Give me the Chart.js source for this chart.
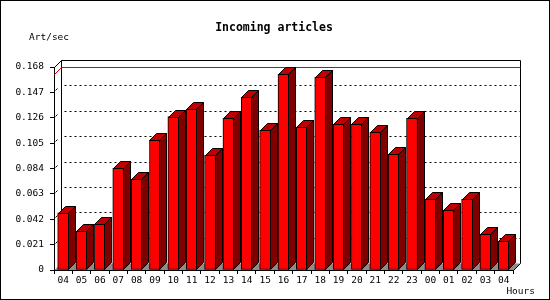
<!DOCTYPE html>
<html lang="en">
<head>
    <meta charset="UTF-8">
    <title>Incoming articles</title>
    <script src="https://cdn.jsdelivr.net/npm/chart.js"></script>
    <style>
        body { margin: 0; background: #fff; }
    </style>
</head>
<body>
    <canvas id="chart" width="550" height="300"></canvas>

    <script>
        // hours of the day (x categories)
        const hours = ['04', '05', '06', '07', '08', '09', '10', '11', '12', '13', '14', '15', '16',
                       '17', '18', '19', '20', '21', '22', '23', '00', '01', '02', '03', '04'];
        // incoming articles per second
        const artPerSec = [0.0474, 0.032, 0.0378, 0.0842, 0.0751, 0.1074, 0.1269, 0.133, 0.0949,
                           0.1256, 0.143, 0.1156, 0.162, 0.118, 0.1595, 0.1206, 0.1206, 0.114,
                           0.0958, 0.1256, 0.0585, 0.0494, 0.0585, 0.0296, 0.0238];
        const yTickValues = [0, 0.021, 0.042, 0.063, 0.084, 0.105, 0.126, 0.147, 0.168];
        const yTickLabels = ['0', '0.021', '0.042', '0.063', '0.084', '0.105', '0.126', '0.147', '0.168'];

        const DEPTH = 7;
        const MONO = '"DejaVu Sans Mono", "Liberation Mono", monospace';

        // back wall, floor, dotted grid and the max line
        const wallPlugin = {
            id: 'wall',
            beforeDraw(chart) {
                const ctx = chart.ctx;
                ctx.save();
                ctx.fillStyle = '#fff';
                ctx.fillRect(0, 0, chart.width, chart.height);
                ctx.restore();
            },
            beforeDatasetsDraw(chart) {
                const ctx = chart.ctx;
                const a = chart.chartArea;
                const y = chart.scales.y;
                const L = Math.round(a.left) + 0.5, R = Math.round(a.right) + 0.5;
                const T = Math.round(a.top) + 0.5, B = Math.round(a.bottom) + 0.5;
                ctx.save();

                // floor
                ctx.fillStyle = '#8c8c8c';
                ctx.beginPath();
                ctx.moveTo(L, B - 0.5);
                ctx.lineTo(R, B - 0.5);
                ctx.lineTo(R + DEPTH, B - DEPTH);
                ctx.lineTo(L + DEPTH, B - DEPTH);
                ctx.closePath();
                ctx.fill();

                // dotted grid on the back wall
                ctx.strokeStyle = '#000';
                ctx.lineWidth = 1;
                ctx.setLineDash([2, 3]);
                yTickValues.slice(1, -1).forEach(v => {
                    const py = Math.round(y.getPixelForValue(v)) + 0.5 - DEPTH;
                    ctx.beginPath();
                    ctx.moveTo(L + DEPTH + 3, py);
                    ctx.lineTo(R + DEPTH, py);
                    ctx.stroke();
                });
                ctx.setLineDash([]);

                // little slants from the front axis
                yTickValues.slice(1, -1).forEach(v => {
                    const py = Math.round(y.getPixelForValue(v)) + 0.5;
                    ctx.beginPath();
                    ctx.moveTo(L + 1, py - 2);
                    ctx.lineTo(L + 3, py - 4);
                    ctx.stroke();
                });

                // back wall outline
                ctx.beginPath();
                ctx.moveTo(L, T);
                ctx.lineTo(L + DEPTH, T - DEPTH);
                ctx.lineTo(R + DEPTH, T - DEPTH);
                ctx.lineTo(R + DEPTH, B - DEPTH);
                ctx.lineTo(R, B);
                ctx.moveTo(L + DEPTH, T - DEPTH);
                ctx.lineTo(L + DEPTH, B - DEPTH);
                ctx.stroke();

                // max value line
                const maxY = Math.round(y.getPixelForValue(Math.max(...artPerSec))) + 0.5;
                ctx.strokeStyle = '#e00000';
                ctx.beginPath();
                ctx.moveTo(L, maxY);
                ctx.lineTo(L + DEPTH, maxY - DEPTH);
                ctx.lineTo(R + DEPTH, maxY - DEPTH);
                ctx.stroke();
                ctx.restore();
            },
            afterDatasetsDraw(chart) {
                const ctx = chart.ctx;
                const meta = chart.getDatasetMeta(0);
                ctx.save();
                ctx.strokeStyle = '#000';
                ctx.lineWidth = 1;
                meta.data.forEach(bar => {
                    const xl = Math.round(bar.x - bar.width / 2) + 0.5;
                    const xr = Math.round(bar.x + bar.width / 2) - 0.5;
                    const yt = Math.round(bar.y) + 0.5;
                    const yb = Math.round(bar.base) - 0.5;
                    // top face
                    ctx.fillStyle = '#c00000';
                    ctx.beginPath();
                    ctx.moveTo(xl, yt);
                    ctx.lineTo(xl + DEPTH, yt - DEPTH);
                    ctx.lineTo(xr + DEPTH, yt - DEPTH);
                    ctx.lineTo(xr, yt);
                    ctx.closePath();
                    ctx.fill();
                    ctx.stroke();
                    // side face
                    ctx.fillStyle = '#800000';
                    ctx.beginPath();
                    ctx.moveTo(xr, yt);
                    ctx.lineTo(xr + DEPTH, yt - DEPTH);
                    ctx.lineTo(xr + DEPTH, yb - DEPTH);
                    ctx.lineTo(xr, yb);
                    ctx.closePath();
                    ctx.fill();
                    ctx.stroke();
                });
                ctx.restore();
            },
            afterDraw(chart) {
                const ctx = chart.ctx;
                ctx.save();
                ctx.fillStyle = '#000';
                ctx.textBaseline = 'middle';
                ctx.font = 'bold 11.5px ' + MONO;
                ctx.textAlign = 'center';
                ctx.fillText('Incoming articles', 274, 28);
                ctx.font = '9.5px ' + MONO;
                ctx.textAlign = 'left';
                ctx.fillText('Art/sec', 29, 38);
                ctx.textAlign = 'right';
                ctx.fillText('Hours', 535, 292);
                ctx.strokeStyle = '#000';
                ctx.strokeRect(0.5, 0.5, chart.width - 1, chart.height - 1);
                ctx.restore();
            }
        };

        new Chart(document.getElementById('chart'), {
            type: 'bar',
            data: {
                labels: hours,
                datasets: [{
                    label: 'Art/sec',
                    data: artPerSec,
                    backgroundColor: '#ff0000',
                    borderColor: '#000',
                    borderWidth: 1,
                    borderSkipped: false,
                    barThickness: 11,
                    categoryPercentage: 1
                }]
            },
            options: {
                responsive: false,
                animation: false,
                layout: { padding: { left: 0, top: 67, right: 37, bottom: 0 } },
                plugins: {
                    legend: { display: false },
                    tooltip: { enabled: false }
                },
                scales: {
                    x: {
                        afterFit: s => { s.height = 30; },
                        grid: { drawOnChartArea: false, tickLength: 4, color: '#000', offset: true },
                        border: { color: '#000' },
                        ticks: {
                            autoSkip: false,
                            maxRotation: 0,
                            padding: 1,
                            color: '#000',
                            font: { family: MONO, size: 9.5 }
                        }
                    },
                    y: {
                        min: 0,
                        max: 0.168,
                        afterFit: s => { s.width = 54; },
                        afterBuildTicks: s => { s.ticks = yTickValues.map(v => ({ value: v })); },
                        grid: { drawOnChartArea: false, tickLength: 4, color: '#000' },
                        border: { color: '#000' },
                        ticks: {
                            padding: 6,
                            color: '#000',
                            font: { family: MONO, size: 9.5 },
                            callback: (v, i) => yTickLabels[i]
                        }
                    }
                }
            },
            plugins: [wallPlugin]
        });
    </script>
</body>
</html>
